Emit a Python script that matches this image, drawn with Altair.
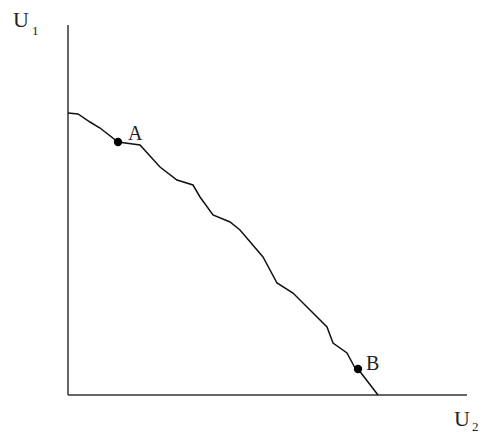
import altair as alt
import pandas as pd

# Utility possibility frontier
u2_vals = [0, 10, 22, 32, 50, 72, 92, 109, 125, 132, 145, 162, 172, 195, 209, 225, 242, 259, 265, 279, 287, 290, 310]
u1_vals = [282, 281, 273, 267, 253, 250, 228, 215, 210, 198, 180, 173, 165, 138, 112, 102, 85, 68, 52, 42, 27, 26, 0]

point_names = ["A", "B"]
point_u2 = [50, 290]
point_u1 = [253, 26]

label_text = ["A", "B"]
label_u2 = [60, 298]
label_u1 = [255, 25]

axis_x_max = 399
axis_y_max = 370

xs = alt.Scale(domain=[0, 400], nice=False, zero=False)
ys = alt.Scale(domain=[0, 370], nice=False, zero=False)

curve_df = pd.DataFrame({"u2": u2_vals, "u1": u1_vals, "o": range(len(u2_vals))})
pts_df = pd.DataFrame({"u2": point_u2, "u1": point_u1, "name": point_names})
lab_df = pd.DataFrame({"u2": label_u2, "u1": label_u1, "t": label_text})
axes_df = pd.DataFrame({"x": [0, 0], "y": [0, 0], "x2": [axis_x_max, 0], "y2": [0, axis_y_max]})

axes = alt.Chart(axes_df).mark_rule(color="#333333", strokeWidth=1.5).encode(
    x=alt.X("x:Q", scale=xs, axis=None),
    y=alt.Y("y:Q", scale=ys, axis=None),
    x2="x2:Q", y2="y2:Q",
)

curve = alt.Chart(curve_df).mark_line(color="#111111", strokeWidth=1.5).encode(
    x=alt.X("u2:Q", scale=xs, axis=None),
    y=alt.Y("u1:Q", scale=ys, axis=None),
    order="o:Q",
)

pts = alt.Chart(pts_df).mark_circle(color="#000000", opacity=1, size=70).encode(
    x=alt.X("u2:Q", scale=xs, axis=None),
    y=alt.Y("u1:Q", scale=ys, axis=None),
)

labs = alt.Chart(lab_df).mark_text(
    font="Liberation Serif", fontSize=20, align="left", baseline="alphabetic", color="#222222"
).encode(
    x=alt.X("u2:Q", scale=xs, axis=None),
    y=alt.Y("u1:Q", scale=ys, axis=None),
    text="t:N",
)

ax_lab_df = pd.DataFrame({
    "x": [-55, 386], "y": [368, -31], "t": ["U", "U"],
    "sx": [-36, 404], "sy": [360, -36], "s": ["1", "2"],
})

ax_main = alt.Chart(ax_lab_df).mark_text(
    font="Liberation Serif", fontSize=22, align="left", baseline="alphabetic", color="#222222"
).encode(
    x=alt.X("x:Q", scale=xs, axis=None),
    y=alt.Y("y:Q", scale=ys, axis=None),
    text="t:N",
)
ax_sub = alt.Chart(ax_lab_df).mark_text(
    font="Liberation Serif", fontSize=13, align="left", baseline="alphabetic", color="#222222"
).encode(
    x=alt.X("sx:Q", scale=xs, axis=None),
    y=alt.Y("sy:Q", scale=ys, axis=None),
    text="s:N",
)

chart = alt.layer(axes, curve, pts, labs, ax_main, ax_sub).properties(
    width=400, height=370,
    autosize=alt.AutoSizeParams(type="none"),
    padding={"left": 60, "top": 17, "right": 11, "bottom": 39},
).configure(background="white").configure_view(stroke=None)

chart.save("out.html", embed_options={"renderer": "svg", "actions": False})
